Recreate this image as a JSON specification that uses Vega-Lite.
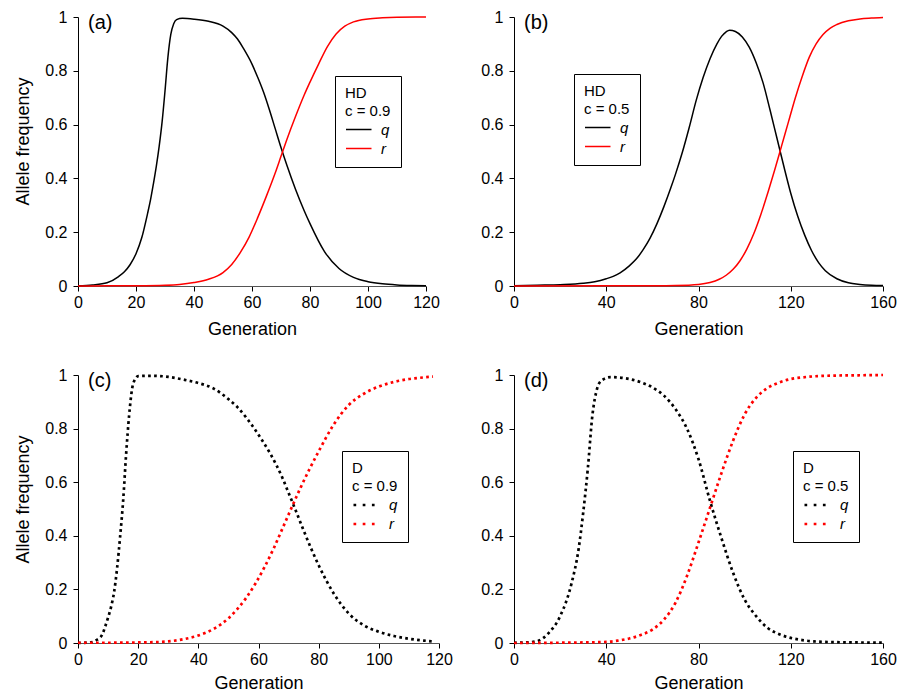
{
"$schema": "https://vega.github.io/schema/vega-lite/v6.json",
"background": "white",
"padding": {"left": 14, "top": 9, "right": 5, "bottom": 5},
"config": {
  "view": {"stroke": null},
  "font": "Liberation Sans",
  "axis": {"grid": false, "domainColor": "black", "tickColor": "black", "labelColor": "black", "titleColor": "black", "labelFontSize": 16, "titleFontSize": 18, "titleFontWeight": "normal", "tickSize": 5, "labelFont": "Liberation Sans", "titleFont": "Liberation Sans"},
  "axisY": {"titlePadding": 12, "labelPadding": 6},
  "axisX": {"titlePadding": 10, "labelPadding": 3, "labelFlush": false, "labelOverlap": false, "domainColor": "#555"},
  "legend": {"strokeColor": "black", "fillColor": "white", "padding": 10, "titleFontSize": 15, "titleFontWeight": "normal", "titleColor": "black", "titleFont": "Liberation Sans", "titleLineHeight": 18, "titlePadding": 1, "labelFontSize": 15, "labelFontStyle": "italic", "labelColor": "black", "labelFont": "Liberation Sans", "labelOffset": 17, "symbolType": "M-1,0H2", "symbolSize": 289, "symbolStrokeWidth": 1.5, "rowPadding": 1},
  "title": {"anchor": "start", "frame": "group", "offset": -24, "dx": 10, "fontSize": 20, "fontWeight": "normal", "font": "Liberation Sans", "color": "black"},
  "line": {"interpolate": "monotone"}
},
"data": {"values": [
{"p":"a","k":"q","g":0,"v":0.001},{"p":"a","k":"q","g":5,"v":0.004},{"p":"a","k":"q","g":10,"v":0.012},{"p":"a","k":"q","g":14,"v":0.035},{"p":"a","k":"q","g":16,"v":0.053},{"p":"a","k":"q","g":18,"v":0.08},{"p":"a","k":"q","g":20,"v":0.12},{"p":"a","k":"q","g":22,"v":0.18},{"p":"a","k":"q","g":24,"v":0.27},{"p":"a","k":"q","g":25,"v":0.32},{"p":"a","k":"q","g":26,"v":0.38},{"p":"a","k":"q","g":27,"v":0.445},{"p":"a","k":"q","g":28,"v":0.52},{"p":"a","k":"q","g":29,"v":0.61},{"p":"a","k":"q","g":30,"v":0.725},{"p":"a","k":"q","g":31,"v":0.85},{"p":"a","k":"q","g":32,"v":0.935},{"p":"a","k":"q","g":33,"v":0.975},{"p":"a","k":"q","g":34,"v":0.99},{"p":"a","k":"q","g":36,"v":0.995},{"p":"a","k":"q","g":40,"v":0.992},{"p":"a","k":"q","g":45,"v":0.984},{"p":"a","k":"q","g":50,"v":0.966},{"p":"a","k":"q","g":53,"v":0.942},{"p":"a","k":"q","g":55,"v":0.918},{"p":"a","k":"q","g":57,"v":0.884},{"p":"a","k":"q","g":60,"v":0.825},{"p":"a","k":"q","g":62,"v":0.775},{"p":"a","k":"q","g":64,"v":0.72},{"p":"a","k":"q","g":66,"v":0.655},{"p":"a","k":"q","g":68,"v":0.585},{"p":"a","k":"q","g":70,"v":0.515},{"p":"a","k":"q","g":72,"v":0.45},{"p":"a","k":"q","g":75,"v":0.36},{"p":"a","k":"q","g":78,"v":0.28},{"p":"a","k":"q","g":80,"v":0.232},{"p":"a","k":"q","g":85,"v":0.128},{"p":"a","k":"q","g":90,"v":0.065},{"p":"a","k":"q","g":95,"v":0.032},{"p":"a","k":"q","g":100,"v":0.016},{"p":"a","k":"q","g":105,"v":0.008},{"p":"a","k":"q","g":110,"v":0.004},{"p":"a","k":"q","g":115,"v":0.002},{"p":"a","k":"q","g":120,"v":0.001},
{"p":"a","k":"r","g":0,"v":0},{"p":"a","k":"r","g":10,"v":0.0005},{"p":"a","k":"r","g":20,"v":0.001},{"p":"a","k":"r","g":30,"v":0.003},{"p":"a","k":"r","g":35,"v":0.006},{"p":"a","k":"r","g":40,"v":0.013},{"p":"a","k":"r","g":45,"v":0.025},{"p":"a","k":"r","g":50,"v":0.05},{"p":"a","k":"r","g":53,"v":0.08},{"p":"a","k":"r","g":56,"v":0.125},{"p":"a","k":"r","g":59,"v":0.182},{"p":"a","k":"r","g":62,"v":0.255},{"p":"a","k":"r","g":65,"v":0.335},{"p":"a","k":"r","g":68,"v":0.42},{"p":"a","k":"r","g":70,"v":0.482},{"p":"a","k":"r","g":72,"v":0.544},{"p":"a","k":"r","g":75,"v":0.63},{"p":"a","k":"r","g":78,"v":0.71},{"p":"a","k":"r","g":80,"v":0.758},{"p":"a","k":"r","g":83,"v":0.826},{"p":"a","k":"r","g":86,"v":0.89},{"p":"a","k":"r","g":89,"v":0.937},{"p":"a","k":"r","g":92,"v":0.966},{"p":"a","k":"r","g":95,"v":0.982},{"p":"a","k":"r","g":100,"v":0.993},{"p":"a","k":"r","g":105,"v":0.997},{"p":"a","k":"r","g":110,"v":0.999},{"p":"a","k":"r","g":120,"v":1.0},
{"p":"b","k":"q","g":0,"v":0.001},{"p":"b","k":"q","g":10,"v":0.003},{"p":"b","k":"q","g":20,"v":0.005},{"p":"b","k":"q","g":30,"v":0.01},{"p":"b","k":"q","g":35,"v":0.016},{"p":"b","k":"q","g":40,"v":0.027},{"p":"b","k":"q","g":43,"v":0.036},{"p":"b","k":"q","g":46,"v":0.049},{"p":"b","k":"q","g":50,"v":0.075},{"p":"b","k":"q","g":53,"v":0.1},{"p":"b","k":"q","g":56,"v":0.135},{"p":"b","k":"q","g":59,"v":0.178},{"p":"b","k":"q","g":62,"v":0.232},{"p":"b","k":"q","g":65,"v":0.295},{"p":"b","k":"q","g":68,"v":0.365},{"p":"b","k":"q","g":70,"v":0.415},{"p":"b","k":"q","g":73,"v":0.497},{"p":"b","k":"q","g":76,"v":0.59},{"p":"b","k":"q","g":79,"v":0.69},{"p":"b","k":"q","g":82,"v":0.775},{"p":"b","k":"q","g":85,"v":0.845},{"p":"b","k":"q","g":88,"v":0.9},{"p":"b","k":"q","g":90,"v":0.928},{"p":"b","k":"q","g":92,"v":0.945},{"p":"b","k":"q","g":93.5,"v":0.951},{"p":"b","k":"q","g":96,"v":0.946},{"p":"b","k":"q","g":99,"v":0.926},{"p":"b","k":"q","g":102,"v":0.888},{"p":"b","k":"q","g":105,"v":0.83},{"p":"b","k":"q","g":108,"v":0.755},{"p":"b","k":"q","g":111,"v":0.655},{"p":"b","k":"q","g":114,"v":0.55},{"p":"b","k":"q","g":117,"v":0.445},{"p":"b","k":"q","g":120,"v":0.345},{"p":"b","k":"q","g":123,"v":0.26},{"p":"b","k":"q","g":126,"v":0.19},{"p":"b","k":"q","g":129,"v":0.132},{"p":"b","k":"q","g":132,"v":0.088},{"p":"b","k":"q","g":135,"v":0.057},{"p":"b","k":"q","g":140,"v":0.027},{"p":"b","k":"q","g":145,"v":0.012},{"p":"b","k":"q","g":150,"v":0.006},{"p":"b","k":"q","g":155,"v":0.003},{"p":"b","k":"q","g":160,"v":0.002},
{"p":"b","k":"r","g":0,"v":0},{"p":"b","k":"r","g":40,"v":0.0005},{"p":"b","k":"r","g":60,"v":0.001},{"p":"b","k":"r","g":70,"v":0.002},{"p":"b","k":"r","g":80,"v":0.006},{"p":"b","k":"r","g":85,"v":0.013},{"p":"b","k":"r","g":89,"v":0.025},{"p":"b","k":"r","g":92,"v":0.04},{"p":"b","k":"r","g":95,"v":0.062},{"p":"b","k":"r","g":98,"v":0.094},{"p":"b","k":"r","g":101,"v":0.138},{"p":"b","k":"r","g":104,"v":0.195},{"p":"b","k":"r","g":107,"v":0.265},{"p":"b","k":"r","g":110,"v":0.345},{"p":"b","k":"r","g":113,"v":0.43},{"p":"b","k":"r","g":116,"v":0.52},{"p":"b","k":"r","g":119,"v":0.61},{"p":"b","k":"r","g":122,"v":0.7},{"p":"b","k":"r","g":125,"v":0.78},{"p":"b","k":"r","g":128,"v":0.85},{"p":"b","k":"r","g":131,"v":0.9},{"p":"b","k":"r","g":134,"v":0.935},{"p":"b","k":"r","g":137,"v":0.958},{"p":"b","k":"r","g":140,"v":0.972},{"p":"b","k":"r","g":145,"v":0.986},{"p":"b","k":"r","g":150,"v":0.993},{"p":"b","k":"r","g":155,"v":0.996},{"p":"b","k":"r","g":160,"v":0.998},
{"p":"c","k":"q","g":0,"v":0},{"p":"c","k":"q","g":4,"v":0.002},{"p":"c","k":"q","g":6,"v":0.01},{"p":"c","k":"q","g":8,"v":0.03},{"p":"c","k":"q","g":9,"v":0.06},{"p":"c","k":"q","g":10,"v":0.095},{"p":"c","k":"q","g":11,"v":0.135},{"p":"c","k":"q","g":12,"v":0.19},{"p":"c","k":"q","g":13,"v":0.28},{"p":"c","k":"q","g":14,"v":0.397},{"p":"c","k":"q","g":15,"v":0.53},{"p":"c","k":"q","g":16,"v":0.705},{"p":"c","k":"q","g":17,"v":0.85},{"p":"c","k":"q","g":18,"v":0.95},{"p":"c","k":"q","g":19,"v":0.985},{"p":"c","k":"q","g":20,"v":0.996},{"p":"c","k":"q","g":25,"v":0.997},{"p":"c","k":"q","g":30,"v":0.993},{"p":"c","k":"q","g":35,"v":0.983},{"p":"c","k":"q","g":40,"v":0.97},{"p":"c","k":"q","g":45,"v":0.95},{"p":"c","k":"q","g":50,"v":0.91},{"p":"c","k":"q","g":53,"v":0.88},{"p":"c","k":"q","g":56,"v":0.84},{"p":"c","k":"q","g":58,"v":0.81},{"p":"c","k":"q","g":61,"v":0.76},{"p":"c","k":"q","g":64,"v":0.705},{"p":"c","k":"q","g":68,"v":0.615},{"p":"c","k":"q","g":70,"v":0.56},{"p":"c","k":"q","g":72,"v":0.505},{"p":"c","k":"q","g":75,"v":0.42},{"p":"c","k":"q","g":80,"v":0.29},{"p":"c","k":"q","g":85,"v":0.185},{"p":"c","k":"q","g":90,"v":0.11},{"p":"c","k":"q","g":95,"v":0.066},{"p":"c","k":"q","g":100,"v":0.042},{"p":"c","k":"q","g":105,"v":0.026},{"p":"c","k":"q","g":110,"v":0.016},{"p":"c","k":"q","g":115,"v":0.009},{"p":"c","k":"q","g":118,"v":0.006},
{"p":"c","k":"r","g":0,"v":0.001},{"p":"c","k":"r","g":10,"v":0.001},{"p":"c","k":"r","g":20,"v":0.002},{"p":"c","k":"r","g":25,"v":0.003},{"p":"c","k":"r","g":30,"v":0.006},{"p":"c","k":"r","g":35,"v":0.014},{"p":"c","k":"r","g":40,"v":0.028},{"p":"c","k":"r","g":45,"v":0.052},{"p":"c","k":"r","g":50,"v":0.092},{"p":"c","k":"r","g":53,"v":0.127},{"p":"c","k":"r","g":56,"v":0.17},{"p":"c","k":"r","g":59,"v":0.222},{"p":"c","k":"r","g":62,"v":0.283},{"p":"c","k":"r","g":65,"v":0.352},{"p":"c","k":"r","g":68,"v":0.428},{"p":"c","k":"r","g":71,"v":0.505},{"p":"c","k":"r","g":74,"v":0.58},{"p":"c","k":"r","g":77,"v":0.65},{"p":"c","k":"r","g":80,"v":0.715},{"p":"c","k":"r","g":85,"v":0.815},{"p":"c","k":"r","g":90,"v":0.888},{"p":"c","k":"r","g":95,"v":0.93},{"p":"c","k":"r","g":100,"v":0.957},{"p":"c","k":"r","g":105,"v":0.974},{"p":"c","k":"r","g":110,"v":0.985},{"p":"c","k":"r","g":115,"v":0.991},{"p":"c","k":"r","g":118,"v":0.994},
{"p":"d","k":"q","g":0,"v":0.001},{"p":"d","k":"q","g":5,"v":0.002},{"p":"d","k":"q","g":10,"v":0.007},{"p":"d","k":"q","g":15,"v":0.037},{"p":"d","k":"q","g":20,"v":0.1},{"p":"d","k":"q","g":25,"v":0.224},{"p":"d","k":"q","g":28,"v":0.35},{"p":"d","k":"q","g":30,"v":0.486},{"p":"d","k":"q","g":32,"v":0.65},{"p":"d","k":"q","g":34,"v":0.85},{"p":"d","k":"q","g":36,"v":0.948},{"p":"d","k":"q","g":38,"v":0.98},{"p":"d","k":"q","g":42,"v":0.992},{"p":"d","k":"q","g":45,"v":0.991},{"p":"d","k":"q","g":50,"v":0.985},{"p":"d","k":"q","g":55,"v":0.973},{"p":"d","k":"q","g":60,"v":0.954},{"p":"d","k":"q","g":65,"v":0.923},{"p":"d","k":"q","g":70,"v":0.873},{"p":"d","k":"q","g":75,"v":0.8},{"p":"d","k":"q","g":80,"v":0.686},{"p":"d","k":"q","g":85,"v":0.53},{"p":"d","k":"q","g":90,"v":0.39},{"p":"d","k":"q","g":95,"v":0.262},{"p":"d","k":"q","g":100,"v":0.162},{"p":"d","k":"q","g":105,"v":0.1},{"p":"d","k":"q","g":110,"v":0.056},{"p":"d","k":"q","g":115,"v":0.033},{"p":"d","k":"q","g":120,"v":0.019},{"p":"d","k":"q","g":125,"v":0.011},{"p":"d","k":"q","g":130,"v":0.006},{"p":"d","k":"q","g":140,"v":0.003},{"p":"d","k":"q","g":150,"v":0.002},{"p":"d","k":"q","g":160,"v":0.001},
{"p":"d","k":"r","g":0,"v":0},{"p":"d","k":"r","g":20,"v":0.001},{"p":"d","k":"r","g":30,"v":0.002},{"p":"d","k":"r","g":40,"v":0.004},{"p":"d","k":"r","g":45,"v":0.009},{"p":"d","k":"r","g":50,"v":0.017},{"p":"d","k":"r","g":55,"v":0.03},{"p":"d","k":"r","g":60,"v":0.05},{"p":"d","k":"r","g":65,"v":0.087},{"p":"d","k":"r","g":70,"v":0.15},{"p":"d","k":"r","g":75,"v":0.25},{"p":"d","k":"r","g":80,"v":0.375},{"p":"d","k":"r","g":85,"v":0.505},{"p":"d","k":"r","g":90,"v":0.635},{"p":"d","k":"r","g":95,"v":0.755},{"p":"d","k":"r","g":100,"v":0.853},{"p":"d","k":"r","g":105,"v":0.915},{"p":"d","k":"r","g":110,"v":0.952},{"p":"d","k":"r","g":115,"v":0.972},{"p":"d","k":"r","g":120,"v":0.985},{"p":"d","k":"r","g":125,"v":0.991},{"p":"d","k":"r","g":130,"v":0.995},{"p":"d","k":"r","g":140,"v":0.998},{"p":"d","k":"r","g":150,"v":0.999},{"p":"d","k":"r","g":160,"v":1.0}
]},
"columns": 2,
"align": "each",
"bounds": "flush",
"spacing": {"row": 89, "column": 75},
"resolve": {"scale": {"x": "independent", "y": "independent", "color": "independent"}, "legend": {"color": "independent"}, "axis": {"x": "independent", "y": "independent"}},
"concat": [
  {"width": 348, "height": 269, "title": {"text": "(a)"},
   "transform": [{"filter": "datum.p === 'a'"}],
   "mark": {"type": "line", "strokeWidth": 1.5},
   "encoding": {
    "x": {"field": "g", "type": "quantitative", "scale": {"domain": [0, 120], "nice": false}, "axis": {"values": [0, 20, 40, 60, 80, 100, 120], "title": "Generation"}},
    "y": {"field": "v", "type": "quantitative", "scale": {"domain": [0, 1], "nice": false}, "axis": {"values": [0, 0.2, 0.4, 0.6, 0.8, 1], "format": "~g", "title": "Allele frequency", "titleY": 124}},
    "color": {"field": "k", "type": "nominal", "scale": {"domain": ["q", "r"], "range": ["#000000", "#ff0000"]}, "legend": {"title": ["HD", "c = 0.9"], "orient": "none", "legendX": 257, "legendY": 59}}
   }},
  {"width": 369, "height": 269, "title": {"text": "(b)"},
   "transform": [{"filter": "datum.p === 'b'"}],
   "mark": {"type": "line", "strokeWidth": 1.5},
   "encoding": {
    "x": {"field": "g", "type": "quantitative", "scale": {"domain": [0, 160], "nice": false}, "axis": {"values": [0, 40, 80, 120, 160], "title": "Generation"}},
    "y": {"field": "v", "type": "quantitative", "scale": {"domain": [0, 1], "nice": false}, "axis": {"values": [0, 0.2, 0.4, 0.6, 0.8, 1], "format": "~g", "title": null}},
    "color": {"field": "k", "type": "nominal", "scale": {"domain": ["q", "r"], "range": ["#000000", "#ff0000"]}, "legend": {"title": ["HD", "c = 0.5"], "orient": "none", "legendX": 60, "legendY": 57}}
   }},
  {"width": 361, "height": 268, "title": {"text": "(c)"},
   "transform": [{"filter": "datum.p === 'c'"}],
   "mark": {"type": "line", "strokeWidth": 2.7, "strokeDash": [2.7, 3.3]},
   "encoding": {
    "x": {"field": "g", "type": "quantitative", "scale": {"domain": [0, 120], "nice": false}, "axis": {"values": [0, 20, 40, 60, 80, 100, 120], "title": "Generation", "titlePadding": 7}},
    "y": {"field": "v", "type": "quantitative", "scale": {"domain": [0, 1], "nice": false}, "axis": {"values": [0, 0.2, 0.4, 0.6, 0.8, 1], "format": "~g", "title": "Allele frequency", "titleY": 124}},
    "color": {"field": "k", "type": "nominal", "scale": {"domain": ["q", "r"], "range": ["#000000", "#ff0000"]}, "legend": {"title": ["D", "c = 0.9"], "orient": "none", "legendX": 264, "legendY": 76, "symbolDash": [2.7, 6.5], "symbolStrokeWidth": 2.7}}
   }},
  {"width": 369, "height": 268, "title": {"text": "(d)"},
   "transform": [{"filter": "datum.p === 'd'"}],
   "mark": {"type": "line", "strokeWidth": 2.7, "strokeDash": [2.7, 3.3]},
   "encoding": {
    "x": {"field": "g", "type": "quantitative", "scale": {"domain": [0, 160], "nice": false}, "axis": {"values": [0, 40, 80, 120, 160], "title": "Generation", "titlePadding": 7}},
    "y": {"field": "v", "type": "quantitative", "scale": {"domain": [0, 1], "nice": false}, "axis": {"values": [0, 0.2, 0.4, 0.6, 0.8, 1], "format": "~g", "title": null}},
    "color": {"field": "k", "type": "nominal", "scale": {"domain": ["q", "r"], "range": ["#000000", "#ff0000"]}, "legend": {"title": ["D", "c = 0.5"], "orient": "none", "legendX": 279, "legendY": 76, "symbolDash": [2.7, 6.5], "symbolStrokeWidth": 2.7}}
   }}
]
}
